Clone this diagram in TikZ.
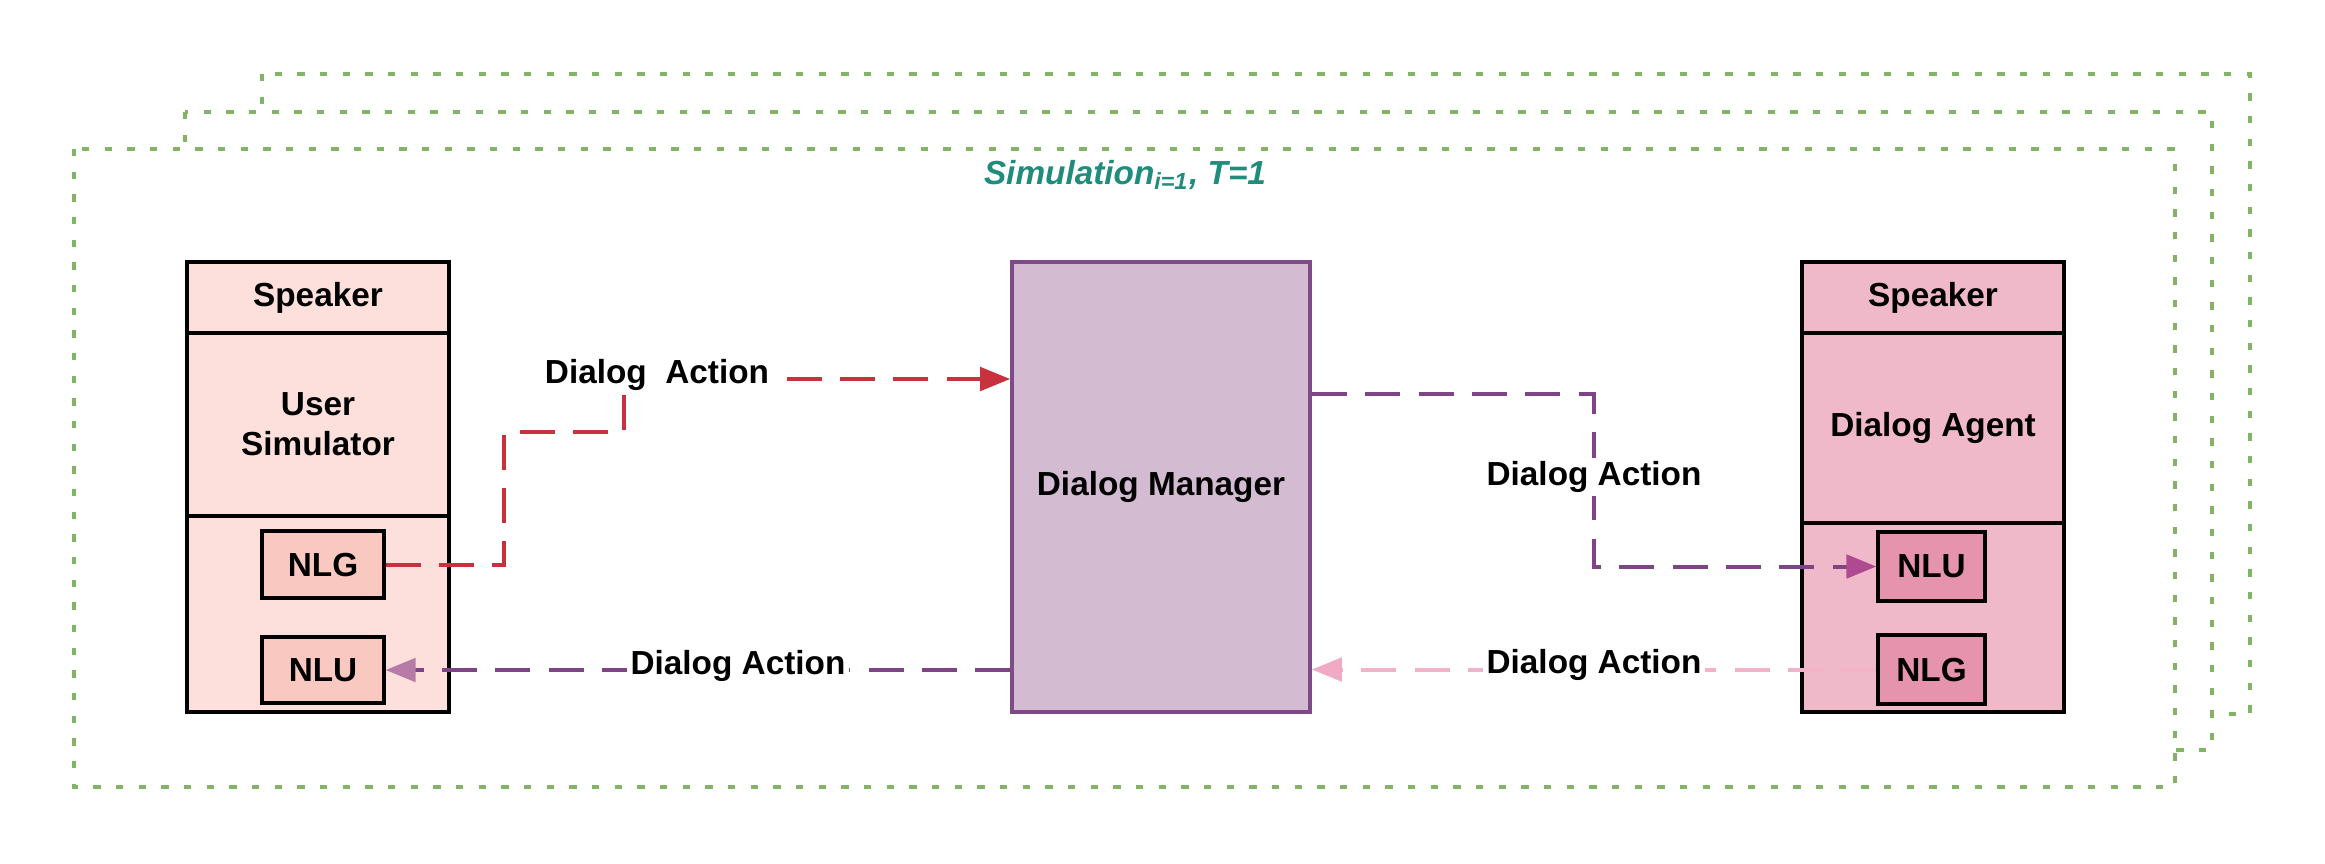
\documentclass[tikz,border=0pt]{standalone}
\usepackage{fontspec}
\setmainfont{Liberation Sans}
\usetikzlibrary{arrows.meta}
\definecolor{frameG}{HTML}{82B366}
\definecolor{titleC}{HTML}{1F8C7C}
\definecolor{leftFill}{HTML}{FDE0DC}
\definecolor{leftSub}{HTML}{F9C9C1}
\definecolor{rightFill}{HTML}{F0B9C9}
\definecolor{rightSub}{HTML}{E693AD}
\definecolor{dmFill}{HTML}{D3BBD2}
\definecolor{dmDraw}{HTML}{7E4A88}
\definecolor{redLine}{HTML}{C8323E}
\definecolor{purpLine}{HTML}{7E4486}
\definecolor{purpTipA}{HTML}{B77BA8}
\definecolor{purpTipB}{HTML}{B04A90}
\definecolor{pinkLine}{HTML}{F2B2C8}
\definecolor{pinkTip}{HTML}{F0AAC4}
\tikzset{
  frame/.style={draw=frameG, line width=1.3pt, dash pattern=on 2.2pt off 4.6pt, fill=white},
  part/.style={draw=black, line width=0.95pt, rectangle, inner sep=0pt, font=\bfseries, align=center},
  lbl/.style={fill=white, inner sep=1pt, font=\bfseries},
  dline/.style={line width=1.2pt, dash pattern=on 10.5pt off 5.5pt},
}
\begin{document}
\begin{tikzpicture}[x=0.3pt, y=-0.3pt]
\useasboundingbox (0,0) rectangle (2325,863);
% stacked simulation frames
\draw[frame] (262,74) rectangle (2250,714);
\draw[frame] (185,112) rectangle (2212,750);
\draw[frame] (74,149) rectangle (2175,787);
\node[font=\bfseries\itshape, text=titleC] (title) at (1125,175) {Simulation\textsubscript{i=1}, T=1};
% left column
\node[part, fill=leftFill, minimum width=78.6pt, minimum height=21.3pt] (spkL) at (318,297.5) {Speaker};
\node[part, fill=leftFill, minimum width=78.6pt, minimum height=54.9pt] (usr) at (318,424.5) {User\\Simulator};
\node[part, fill=leftFill, minimum width=78.6pt, minimum height=58.8pt] (lowL) at (318,614) {};
\node[part, fill=leftSub, minimum width=36.6pt, minimum height=20.1pt] (nlgL) at (323,564.5) {NLG};
\node[part, fill=leftSub, minimum width=36.6pt, minimum height=19.8pt] (nluL) at (323,670) {NLU};
% dialog manager
\node[draw=dmDraw, fill=dmFill, line width=1.1pt, inner sep=0pt, minimum width=89.4pt, minimum height=135pt, font=\bfseries] (dm) at (1161,487) {Dialog Manager};
% right column
\node[part, fill=rightFill, minimum width=78.6pt, minimum height=21.3pt] (spkR) at (1933,297.5) {Speaker};
\node[part, fill=rightFill, minimum width=78.6pt, minimum height=57pt] (agt) at (1933,428) {Dialog Agent};
\node[part, fill=rightFill, minimum width=78.6pt, minimum height=56.7pt] (lowR) at (1933,617.5) {};
\node[part, fill=rightSub, minimum width=32.1pt, minimum height=20.7pt] (nluR) at (1931.5,566.5) {NLU};
\node[part, fill=rightSub, minimum width=32.1pt, minimum height=20.7pt] (nlgR) at (1931.5,669.5) {NLG};
% connectors
\coordinate (a1) at (504,432);
\coordinate (a2) at (624,379);
\draw[dline, redLine, -{Triangle[length=9pt,width=7pt,color=redLine]}]
  (nlgL.east) -| (a1) -| (a2) -- (a2 -| dm.west);
\draw[dline, purpLine, -{Triangle[length=9pt,width=7pt,color=purpTipA]}]
  (nluL.east -| dm.west) -- (nluL.east);
\coordinate (b1) at (1594,394);
\draw[dline, purpLine, -{Triangle[length=9pt,width=7pt,color=purpTipB]}]
  (b1 -| dm.east) -- (b1) |- (nluR.west);
\draw[dline, pinkLine, -{Triangle[length=9pt,width=7pt,color=pinkTip]}]
  (nlgR.west) -- (nlgR.west -| dm.east);
% labels
\node[lbl] (l1) at (657,375) {Dialog\ \ Action};
\node[lbl] (l2) at (738,666) {Dialog Action};
\node[lbl] (l3) at (1594,477) {Dialog Action};
\node[lbl] (l4) at (1594,665) {Dialog Action};
\end{tikzpicture}
\end{document}
